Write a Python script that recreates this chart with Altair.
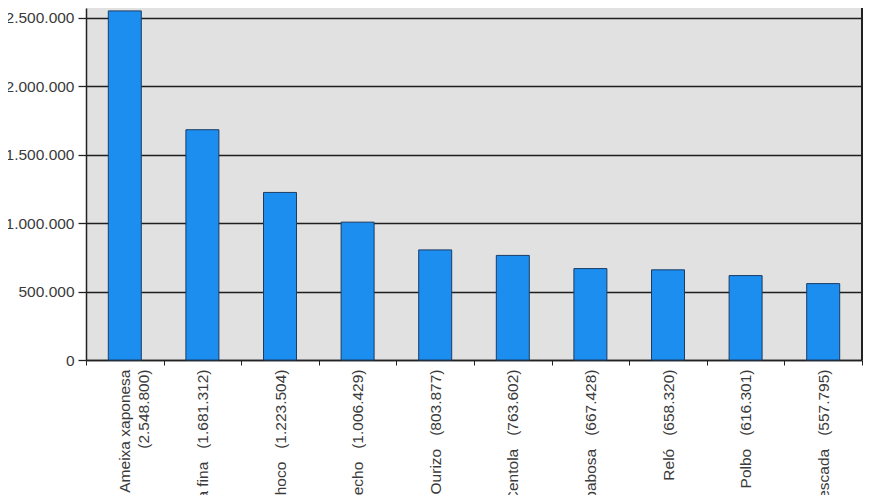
import altair as alt
import pandas as pd

species = ["Ameixa xaponesa", "Ameixa fina", "Choco", "Berberecho", "Ourizo",
           "Centola", "Ameixa babosa", "Reló", "Polbo", "Pescada"]
value_labels = ["2.548.800", "1.681.312", "1.223.504", "1.006.429", "803.877",
                "763.602", "667.428", "658.320", "616.301", "557.795"]
values = [2548800, 1681312, 1223504, 1006429, 803877,
          763602, 667428, 658320, 616301, 557795]

labels = []
for i, (s, v) in enumerate(zip(species, value_labels)):
    if i == 0:
        labels.append(f"{s}|({v})")
    else:
        labels.append(f"{s}\u00a0\u00a0 ({v})")

df = pd.DataFrame({"label": labels, "value": values})

W, H = 776, 352

bars = alt.Chart(df).mark_bar(
    size=33, color="#1b8ef0", stroke="#1c3c66", strokeWidth=1
).encode(
    x=alt.X("label:N", sort=None, title=None,
            scale=alt.Scale(paddingInner=0, paddingOuter=0),
            axis=alt.Axis(labelAngle=-90, labelAlign="right", labelBaseline="middle",
                          labelExpr="split(datum.label, '|')",
                          labelFont="Liberation Sans", labelFontSize=15.5,
                          labelColor="#3a3a3a", labelLimit=400, labelPadding=4,
                          tickBand="extent", tickSize=5, tickColor="#222222",
                          domainColor="#222222", domainWidth=1.5, labelLineHeight=19)),
    y=alt.Y("value:Q", title=None,
            scale=alt.Scale(domain=[0, 2570000], nice=False, zero=True),
            axis=alt.Axis(values=[0, 500000, 1000000, 1500000, 2000000, 2500000],
                          labelExpr="replace(format(datum.value, ',d'), regexp(',', 'g'), '.')",
                          labelFont="Liberation Sans", labelFontSize=15.5,
                          labelColor="#3a3a3a", labelPadding=4,
                          tickSize=8, tickColor="#222222", tickWidth=1.3,
                          domainColor="#222222", domainWidth=1.5,
                          grid=True, gridColor="#1e1e1e", gridWidth=1.4))
)

right_border = alt.Chart(df).mark_rule(color="#222222", strokeWidth=1.5).encode(
    x=alt.value(W), y=alt.value(0), y2=alt.value(H)
)

chart = alt.layer(bars, right_border).properties(
    width=W, height=H,
    autosize=alt.AutoSizeParams(type="none"),
    padding={"left": 78, "top": 0, "right": 10, "bottom": 150},
    background="white"
).configure_view(fill="#e1e1e1", stroke=None)

chart.save("out.html", embed_options={"renderer": "svg", "actions": False})
